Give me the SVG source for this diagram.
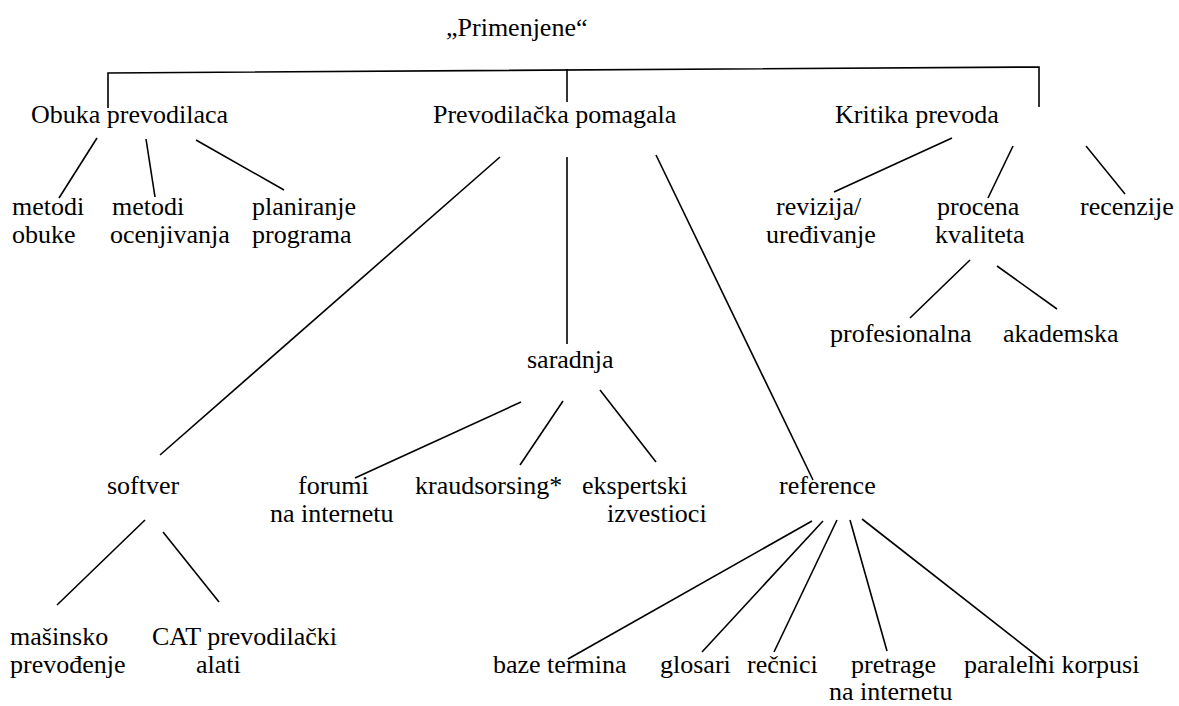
<svg xmlns="http://www.w3.org/2000/svg" width="1179" height="706" viewBox="0 0 1179 706">
<style>
.t text{font-family:'Liberation Serif','Times New Roman',Times,'DejaVu Serif',serif;font-size:26px;fill:#000}
.c line,.c polyline{stroke:#000;stroke-width:1.6;fill:none}
.b{stroke-width:2.2}
</style>
<rect width="1179" height="706" fill="#fff"/>
<g id="connectors" class="c">
<polyline class="b" points="108,108 108,73 1039,67 1039,107"/>
<line x1="567" y1="69" x2="567" y2="102"/>
<line x1="97" y1="138" x2="59" y2="198"/>
<line x1="146" y1="139" x2="155" y2="197"/>
<line x1="196" y1="140" x2="284" y2="190"/>
<line x1="500" y1="157" x2="160" y2="455"/>
<line x1="567" y1="157" x2="567" y2="344"/>
<line x1="656" y1="155" x2="813" y2="480"/>
<line x1="952" y1="138" x2="834" y2="192"/>
<line x1="1013" y1="146" x2="988" y2="198"/>
<line x1="1086" y1="146" x2="1125" y2="194"/>
<line x1="970" y1="260" x2="910" y2="318"/>
<line x1="997" y1="266" x2="1057" y2="309"/>
<line x1="521" y1="402" x2="355" y2="478"/>
<line x1="563" y1="401" x2="520" y2="465"/>
<line x1="600" y1="390" x2="656" y2="462"/>
<line x1="145" y1="520" x2="57" y2="605"/>
<line x1="163" y1="532" x2="219" y2="602"/>
<line x1="812" y1="521" x2="568" y2="659"/>
<line x1="823" y1="521" x2="702" y2="652"/>
<line x1="837" y1="520" x2="774" y2="652"/>
<line x1="850" y1="520" x2="887" y2="651"/>
<line x1="862" y1="519" x2="1046" y2="663"/>
</g>
<g class="t" font-family="Liberation Serif, serif" font-size="26">
<g id="root"><text x="446" y="36">„Primenjene“</text></g>
<g id="obuka"><text x="31" y="123">Obuka prevodilaca</text></g>
<g id="pomagala"><text x="433" y="123">Prevodilačka pomagala</text></g>
<g id="kritika"><text x="835" y="123">Kritika prevoda</text></g>
<g id="metodi-obuke"><text x="12" y="215">metodi</text><text x="12" y="243">obuke</text></g>
<g id="metodi-ocenjivanja"><text x="112" y="215">metodi</text><text x="110" y="243">ocenjivanja</text></g>
<g id="planiranje"><text x="252" y="215">planiranje</text><text x="252" y="243">programa</text></g>
<g id="revizija"><text x="776" y="215">revizija/</text><text x="766" y="243">uređivanje</text></g>
<g id="procena"><text x="937" y="215">procena</text><text x="935" y="243">kvaliteta</text></g>
<g id="recenzije"><text x="1080" y="215">recenzije</text></g>
<g id="profesionalna"><text x="830" y="342">profesionalna</text></g>
<g id="akademska"><text x="1003" y="342">akademska</text></g>
<g id="saradnja"><text x="527" y="368">saradnja</text></g>
<g id="softver"><text x="107" y="494">softver</text></g>
<g id="forumi"><text x="298" y="494">forumi</text><text x="270" y="522">na internetu</text></g>
<g id="kraudsorsing"><text x="415" y="494">kraudsorsing*</text></g>
<g id="ekspertski"><text x="582" y="494">ekspertski</text><text x="607" y="522">izvestioci</text></g>
<g id="reference"><text x="779" y="494">reference</text></g>
<g id="masinsko"><text x="10" y="645">mašinsko</text><text x="10" y="673">prevođenje</text></g>
<g id="cat"><text x="152" y="645">CAT prevodilački</text><text x="196" y="673">alati</text></g>
<g id="baze"><text x="493" y="673">baze termina</text></g>
<g id="glosari"><text x="660" y="673">glosari</text></g>
<g id="recnici"><text x="747" y="673">rečnici</text></g>
<g id="pretrage"><text x="851" y="673">pretrage</text><text x="829" y="700">na internetu</text></g>
<g id="paralelni"><text x="964" y="673">paralelni korpusi</text></g>
</g>
</svg>
